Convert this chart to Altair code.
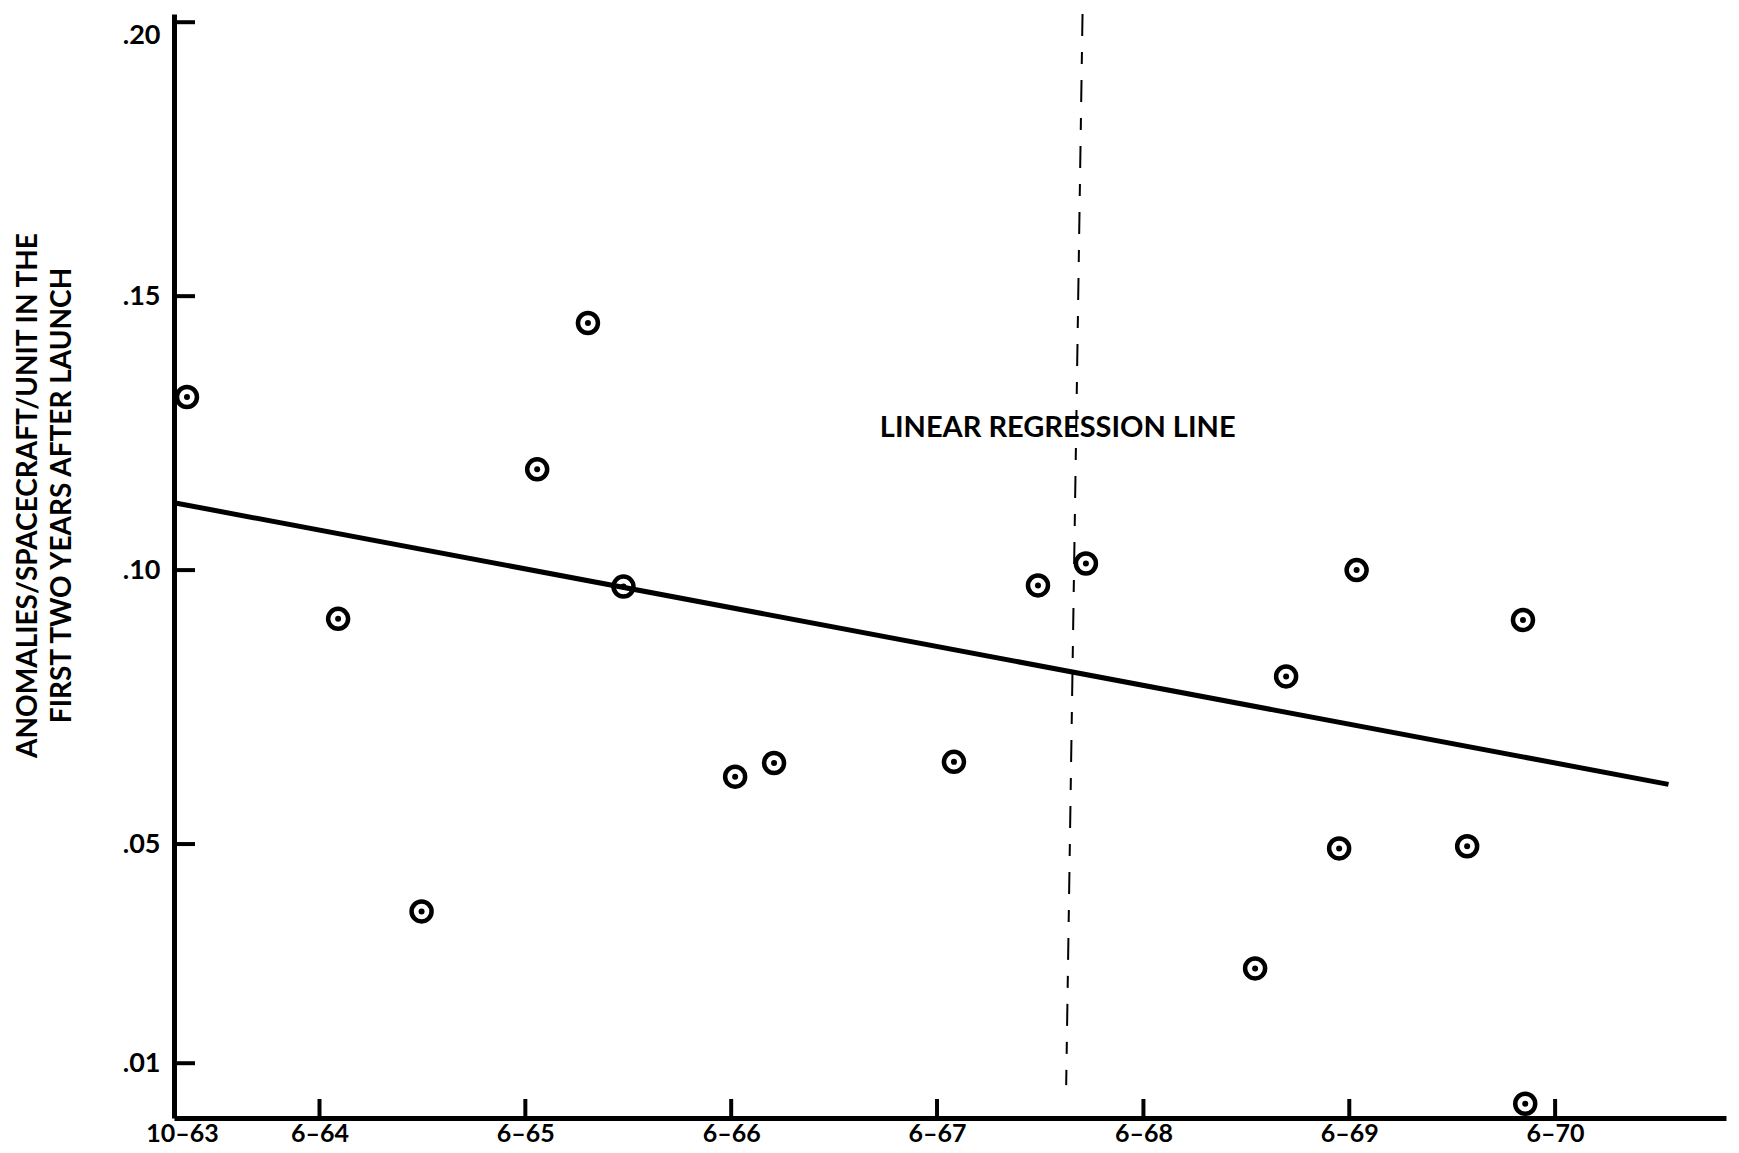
import altair as alt

# ---- data ----
point_dates = ["1963-10-10", "1964-07-04", "1964-11-29", "1965-06-22", "1965-09-20",
               "1965-11-22", "1966-06-08", "1966-08-16", "1967-07-01", "1967-11-27",
               "1968-02-20", "1968-12-16", "1969-02-09", "1969-05-14", "1969-06-14",
               "1969-12-27", "1970-04-05", "1970-04-09"]
point_values = [0.1316, 0.0911, 0.0377, 0.1184, 0.1451,
                0.0970, 0.0623, 0.0648, 0.0650, 0.0972,
                0.1012, 0.0273, 0.0806, 0.0492, 0.1000,
                0.0496, 0.0909, 0.0026]

reg_dates = ["1963-09-17", "1970-12-19"]
reg_values = [0.1123, 0.0609]

ref_line_dates = ["1968-02-14", "1968-01-16"]
ref_line_values = [0.2015, 0.006]

label_text = "LINEAR REGRESSION LINE"
label_date = "1968-01-01"
label_value = 0.126

x_tick_dates = ["1963-10-01", "1964-06-01", "1965-06-01", "1966-06-01", "1967-06-01",
                "1968-06-01", "1969-06-01", "1970-06-01"]
x_tick_labels = ["10\u201363", "6\u201364", "6\u201365", "6\u201366", "6\u201367",
                 "6\u201368", "6\u201369", "6\u201370"]
y_tick_values = [0.01, 0.05, 0.10, 0.15, 0.20]
y_tick_labels = [".01", ".05", ".10", ".15", ".20"]

x_domain = ["1963-09-17", "1971-03-31"]
y_domain = [0.0, 0.2015]

y_title = ["ANOMALIES/SPACECRAFT/UNIT IN THE", "FIRST TWO YEARS AFTER LAUNCH"]

W, H = 1552, 1104
FONT = "Lato"


def dt(s):
    y, m, d = map(int, s.split("-"))
    return alt.DateTime(year=y, month=m, date=d, utc=True)


x_lookup = "{" + ",".join(
    f"'{d[:7]}':'{l}'" for d, l in zip(x_tick_dates, x_tick_labels)) + "}"
y_lookup = "{" + ",".join(
    f"'{v:.2f}':'{l}'" for v, l in zip(y_tick_values, y_tick_labels)) + "}"

x_scale = alt.Scale(type="utc", domain=[dt(s) for s in x_domain])
y_scale = alt.Scale(domain=y_domain, nice=False, zero=False)

x_axis = alt.Axis(values=[dt(s) for s in x_tick_dates],
                  labelExpr=f"{x_lookup}[utcFormat(datum.value, '%Y-%m')]",
                  labelPadding=3, labelAlign="center", labelBaseline="top",
                  labelFontSize=25, title=None)
y_axis = alt.Axis(values=y_tick_values,
                  labelExpr=f"{y_lookup}[format(datum.value, '.2f')]",
                  labelPadding=14, labelFontSize=27, labelFlush=12,
                  title=y_title, titleAngle=270,
                  titleX=-146, titleY=481, titleAlign="center",
                  titleBaseline="middle", titleFontSize=28, titleLineHeight=34,
                  titleFont=FONT, titleFontWeight="bold", titleColor="black")

X = alt.X("date:T", scale=x_scale, axis=x_axis)
Y = alt.Y("value:Q", scale=y_scale, axis=y_axis)

pts_data = alt.Data(values=[{"date": d, "value": v} for d, v in zip(point_dates, point_values)])
reg_data = alt.Data(values=[{"date": d, "value": v} for d, v in zip(reg_dates, reg_values)])
ref_data = alt.Data(values=[{"date": ref_line_dates[0], "value": ref_line_values[0],
                             "date2": ref_line_dates[1], "value2": ref_line_values[1]}])
lab_data = alt.Data(values=[{"date": label_date, "value": label_value, "text": label_text}])
xt_data = alt.Data(values=[{"date": d} for d in x_tick_dates[1:]])
yt_data = alt.Data(values=[{"value": v} for v in y_tick_values])

ref_line = alt.Chart(ref_data).mark_rule(
    color="black", strokeWidth=2, strokeDash=[22, 16, 12, 16], clip=False
).encode(x=X, y=Y, x2="date2:T", y2="value2:Q")

reg_line = alt.Chart(reg_data).mark_line(color="black", strokeWidth=5).encode(x=X, y=Y)

rings = alt.Chart(pts_data).mark_point(
    shape="circle", filled=False, size=400, strokeWidth=4.5, color="black", opacity=1
).encode(x=X, y=Y)
dots = alt.Chart(pts_data).mark_circle(size=36, color="black", opacity=1).encode(x=X, y=Y)

label = alt.Chart(lab_data).mark_text(
    font=FONT, fontSize=29, fontWeight="bold", color="black",
    align="center", baseline="middle"
).encode(x=X, y=Y, text="text:N")

x_ticks = alt.Chart(xt_data).mark_rule(color="black", strokeWidth=4).encode(
    x=X, y=alt.value(H), y2=alt.value(H - 19))
y_ticks = alt.Chart(yt_data).mark_rule(color="black", strokeWidth=4).encode(
    y=Y, x=alt.value(0), x2=alt.value(21))

chart = alt.layer(ref_line, reg_line, x_ticks, y_ticks, rings, dots, label).properties(
    width=W, height=H,
    autosize=alt.AutoSizeParams(type="none"),
    padding={"left": 166, "top": 6, "right": 5, "bottom": 27},
    background="white",
).configure_view(stroke=None).configure_axis(
    domainColor="black", domainWidth=5, ticks=False, grid=False,
    labelFont=FONT, labelFontSize=24, labelFontWeight="bold", labelColor="black",
)

chart.save("out.html", embed_options={"renderer": "svg", "actions": False})
